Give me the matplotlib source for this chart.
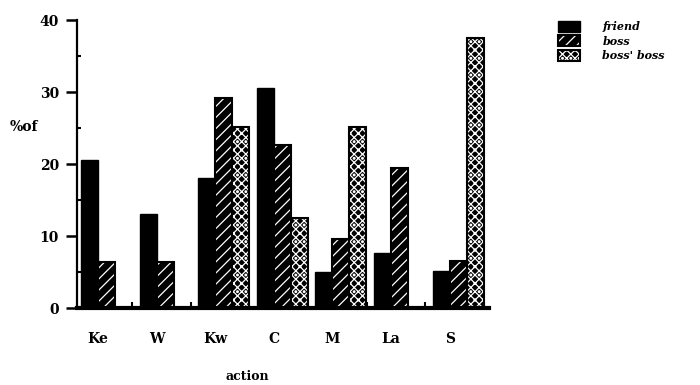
import matplotlib
matplotlib.use("Agg")
import matplotlib.pyplot as plt
import numpy as np
from matplotlib.patches import Patch
from matplotlib.legend_handler import HandlerTuple

# Percentage of responses per action, by addressee
categories = ["Ke", "W", "Kw", "C", "M", "La", "S"]
friend = [20.6, 13.0, 18.1, 30.6, 5.0, 7.7, 5.2]
boss = [6.4, 6.4, 29.1, 22.6, 9.6, 19.4, 6.5]
boss_boss = [0.0, 0.0, 25.2, 12.5, 25.2, 0.0, 37.5]
series_labels = ["friend", "boss", "boss' boss"]
y_ticks = [0, 10, 20, 30, 40]

plt.rcParams["font.family"] = ["DejaVu Serif"]
plt.rcParams["font.weight"] = "bold"
plt.rcParams["hatch.linewidth"] = 0.9

fig = plt.figure(figsize=(7, 3.85), dpi=100)
ax = fig.add_axes([0.11, 0.2, 0.5886, 0.748])

x = np.arange(len(categories))
w = 0.29
offsets = [-w, 0.0, w]
hatches = [None, "///", "xxxx.."]
series = [friend, boss, boss_boss]

handles = []
for vals, off, h in zip(series, offsets, hatches):
    pos = x + off
    if h is None:
        ax.bar(pos, vals, width=w, color="black", edgecolor="black", linewidth=1.0)
        handles.append(Patch(facecolor="black", edgecolor="black"))
    else:
        ax.bar(pos, vals, width=w, color="black", edgecolor="white",
               hatch=h, linewidth=0)
        ax.bar(pos, vals, width=w, fill=False, edgecolor="black", linewidth=1.5)
        handles.append((Patch(facecolor="black", edgecolor="white", hatch=h, linewidth=0),
                        Patch(fill=False, edgecolor="black", linewidth=1.5)))

for s in ["top", "right"]:
    ax.spines[s].set_visible(False)
ax.spines["left"].set_linewidth(1.6)
ax.spines["bottom"].set_linewidth(3.0)

ax.set_yticks(y_ticks)
ax.set_yticklabels([str(v) for v in y_ticks], fontsize=10, fontweight="bold")
ax.set_yticks([5, 15, 25, 35], minor=True)
ax.tick_params(axis="y", which="major", direction="out", length=8, width=1.8, pad=5)
ax.tick_params(axis="y", which="minor", direction="in", length=3, width=1.5)

ax.set_xticks(x - w / 2)
ax.set_xticklabels(categories, fontsize=10, fontweight="bold")
ax.set_xticks(np.arange(len(categories)) + 0.44, minor=True)
ax.tick_params(axis="x", which="major", length=0, pad=17)
ax.tick_params(axis="x", which="minor", direction="in", length=4, width=1.5)

ax.set_xlim(-0.503, 6.527)
ax.set_ylim(0, 40)

fig.text(24 / 700, 1 - 127 / 385, "%of", fontsize=10, fontweight="bold",
         ha="center", va="center")
fig.text(247 / 700, 1 - 376 / 385, "action", fontsize=9, fontweight="bold",
         ha="center", va="center")

fig.legend(handles, series_labels, loc="upper left",
           bbox_to_anchor=(558 / 700, 1 - 21 / 385), frameon=False,
           prop=dict(size=8, weight="bold", style="italic"),
           handlelength=2.0, handleheight=1.1, labelspacing=0.3,
           handletextpad=2.0, borderpad=0, borderaxespad=0,
           handler_map={tuple: HandlerTuple(ndivide=1, pad=0)})

fig.savefig("out.png", dpi=100)
